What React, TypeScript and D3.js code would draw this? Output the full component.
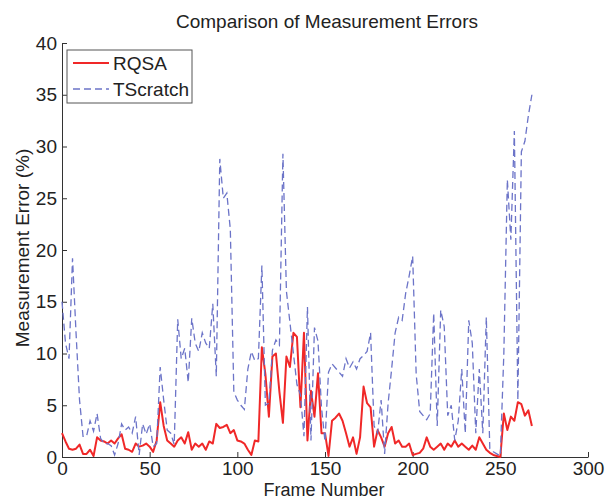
import React, { useEffect, useRef } from 'react';
import * as d3 from 'd3';

// one sample every 2 frames, starting at frame 0
const frameStep = 2;

const tscratchErr = [
    15, 11, 9.5, 19.2, 12, 5.5, 2, 2, 3.5, 2.5,
    4.2, 1.8, 1.3, 1.3, 1.1, 0.2, 1.3, 3.2, 2.6, 2.9,
    2.3, 3.9, 0.2, 3.2, 2.2, 3.2, 1, 1.3, 8.7, 5.5,
    2.6, 2.3, 1.2, 13.3, 9.5, 10.5, 7.2, 13.4, 11, 10.2,
    12, 11, 10.5, 14.8, 7.8, 28.8, 25, 25.5, 22, 6.3,
    5.5, 5, 4.6, 8.5, 10.2, 9.3, 9.5, 18.5, 5, 5.2,
    10.3, 11.3, 10.8, 29.3, 16, 13, 10, 7, 6, 2,
    14.5, 1.6, 12.5, 11.2, 4.8, 1.5, 8.2, 9, 8.6, 8.2,
    7.8, 9.5, 8.6, 9.2, 8.5, 9.5, 9.8, 10.2, 12, 3,
    2.3, 5.5, 0.3, 5.2, 8.5, 12, 13.5, 13.2, 15.8, 17.5,
    19.4, 8, 4.4, 4, 3.6, 4.2, 13.9, 3, 14.2, 12.6,
    4, 5, 1.6, 3.5, 8.5, 2.3, 13.2, 11, 2.3, 8.5,
    2.3, 13.5, 0.8, 0.5, 0.3, 0.1, 10, 26.8, 21, 31.5,
    5.5, 29.5, 30.5, 33, 35
];

const rqsaErr = [
    2.3, 1.5, 0.8, 0.7, 0.8, 1.2, 0.3, 0.3, 0.7, 0.1,
    1.9, 1.6, 1.5, 1.3, 1.6, 1.3, 1.8, 2.2, 0.8, 0.7,
    0.5, 1.3, 1, 1.1, 1.3, 1, 0.5, 1.6, 5.3, 3,
    1.6, 1.3, 1, 1.6, 1.9, 1.3, 2.4, 0.7, 1.3, 1,
    1.3, 0.7, 1.5, 1.3, 3.2, 2.8, 2.9, 3.1, 2.3, 2.6,
    1.6, 1.5, 1.3, 0.7, 0.2, 1.6, 1.5, 10.6, 8, 3.9,
    9.7, 10, 6.3, 3.3, 9.7, 8.7, 12, 11.6, 4.8, 12,
    1.6, 6.4, 3.9, 8.1, 2.3, 2.3, 0.1, 3.5, 3.8, 4.2,
    3.5, 2.3, 1, 1.9, 0.3, 1.9, 6.8, 5.2, 4.8, 1,
    2.6, 1.9, 1, 2.3, 2.9, 1.3, 1.6, 1, 1, 1.3,
    0.2, 0.3, 0.4, 0.8, 1.9, 1, 0.7, 1, 1.3, 0.7,
    1.3, 1, 1.6, 1, 1.3, 1, 0.7, 1.1, 0.7, 1.9,
    1.3, 0.7, 0.4, 0.2, 0.1, 0, 4.2, 2.6, 3.9, 3.5,
    5.3, 5.1, 4, 4.5, 3
];

const xTicks = [0, 50, 100, 150, 200, 250, 300];
const yTicks = [0, 5, 10, 15, 20, 25, 30, 35, 40];

const seriesNames = ['RQSA', 'TScratch'];
const seriesColors = ['#f02828', '#6c74c8'];

const font = '"Liberation Sans", Arial, sans-serif';
const fontSize = '19px';

export default function App() {
    const ref = useRef<SVGSVGElement>(null);

    useEffect(() => {
        const svg = d3.select(ref.current);
        svg.selectAll('*').remove();

        const x = d3.scaleLinear().domain([0, 300]).range([62, 588]);
        const y = d3.scaleLinear().domain([0, 40]).range([457, 43]);

        const line = d3
            .line<number>()
            .x((d, i) => x(i * frameStep))
            .y((d) => y(d));

        // axes (matlab style, ticks pointing in)
        const xAxis = svg
            .append('g')
            .attr('transform', `translate(0,${y(0)})`)
            .call(
                d3
                    .axisBottom(x)
                    .tickValues(xTicks)
                    .tickSizeInner(-5)
                    .tickSizeOuter(0)
                    .tickPadding(5)
            );
        const yAxis = svg
            .append('g')
            .attr('transform', `translate(${x(0)},0)`)
            .call(
                d3
                    .axisLeft(y)
                    .tickValues(yTicks)
                    .tickSizeInner(-5)
                    .tickSizeOuter(0)
                    .tickPadding(5)
            );
        [xAxis, yAxis].forEach((g) => {
            g.selectAll('path,line').attr('stroke', '#333');
            g.selectAll('text')
                .attr('fill', '#222')
                .style('font-family', font)
                .style('font-size', fontSize);
        });

        svg.append('path')
            .datum(rqsaErr)
            .attr('d', line)
            .attr('fill', 'none')
            .attr('stroke', seriesColors[0])
            .attr('stroke-width', 2)
            .attr('stroke-linejoin', 'round');

        svg.append('path')
            .datum(tscratchErr)
            .attr('d', line)
            .attr('fill', 'none')
            .attr('stroke', seriesColors[1])
            .attr('stroke-width', 1.3)
            .attr('stroke-dasharray', '7,4');

        // legend
        const legend = svg.append('g').attr('transform', 'translate(67,50)');
        legend
            .append('rect')
            .attr('width', 125)
            .attr('height', 53)
            .attr('fill', 'white')
            .attr('stroke', '#555');
        seriesNames.forEach((name, i) => {
            const ly = 13 + i * 26;
            legend
                .append('line')
                .attr('x1', 6)
                .attr('x2', 42)
                .attr('y1', ly)
                .attr('y2', ly)
                .attr('stroke', seriesColors[i])
                .attr('stroke-width', i === 0 ? 2 : 1.3)
                .attr('stroke-dasharray', i === 0 ? null : '7,4');
            legend
                .append('text')
                .attr('x', 46)
                .attr('y', ly + 7)
                .attr('fill', '#222')
                .style('font-family', font)
                .style('font-size', fontSize)
                .text(name);
        });

        const label = (t: string) =>
            svg
                .append('text')
                .attr('text-anchor', 'middle')
                .attr('fill', '#222')
                .style('font-family', font)
                .style('font-size', fontSize)
                .text(t);

        label('Comparison of Measurement Errors').attr('x', 327).attr('y', 28);
        label('Frame Number')
            .attr('x', 324)
            .attr('y', 496)
            .style('font-size', '18px');
        label('Measurement Error (%)').attr(
            'transform',
            'translate(29,248) rotate(-90)'
        );
    }, []);

    return (
        <svg
            ref={ref}
            width={606}
            height={500}
            style={{ position: 'absolute', left: 0, top: 0, background: 'white' }}
        />
    );
}
